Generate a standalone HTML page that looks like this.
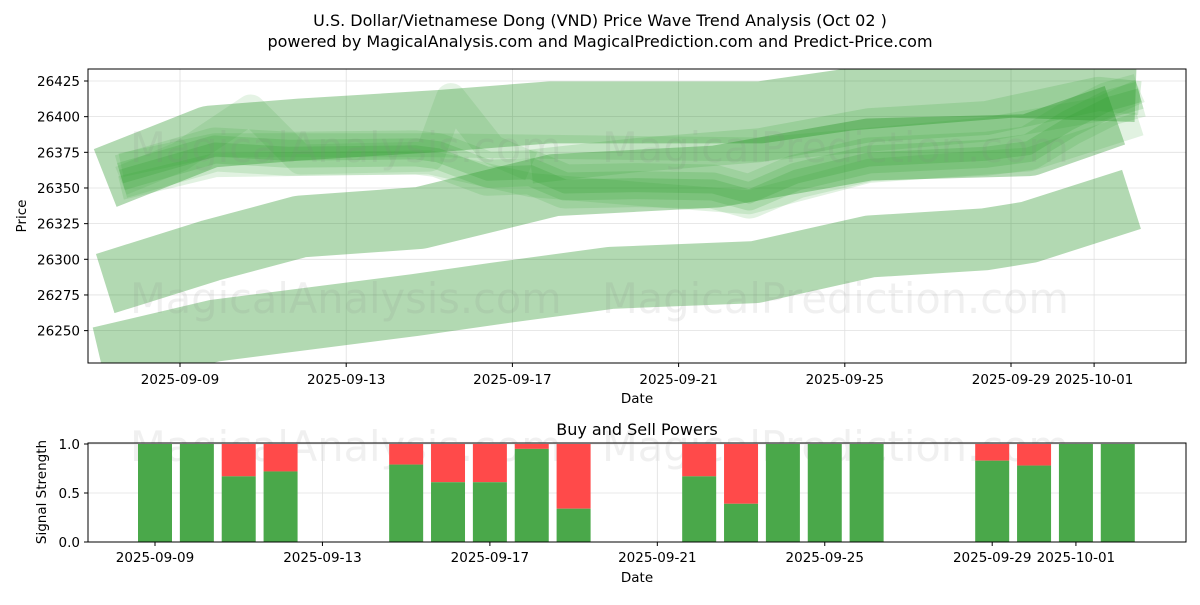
<!DOCTYPE html>
<html><head><meta charset="utf-8"><style>
body{margin:0;background:#fff;}
svg text{font-family:"DejaVu Sans","Liberation Sans",sans-serif;}
</style></head><body>
<svg id="chart" width="1200" height="600" viewBox="0 0 1200 600" xmlns="http://www.w3.org/2000/svg">
<defs>
<clipPath id="clipTop"><rect x="88" y="69" width="1098" height="294"/></clipPath>
<clipPath id="clipBot"><rect x="88" y="443" width="1098" height="99"/></clipPath>
</defs>
<rect width="1200" height="600" fill="#fff"/>
<text x="600" y="26" text-anchor="middle" font-size="16">U.S. Dollar/Vietnamese Dong (VND) Price Wave Trend Analysis (Oct 02 )</text>
<text x="600" y="47" text-anchor="middle" font-size="16">powered by MagicalAnalysis.com and MagicalPrediction.com and Predict-Price.com</text>
<g id="topGrid"></g>
<g id="bands" clip-path="url(#clipTop)"></g>
<g font-size="41.5" fill="rgba(128,128,128,0.12)">
<text x="130" y="162">MagicalAnalysis.com</text><text x="602" y="162">MagicalPrediction.com</text>
<text x="130" y="313">MagicalAnalysis.com</text><text x="602" y="313">MagicalPrediction.com</text>
<text x="130" y="461">MagicalAnalysis.com</text><text x="602" y="461">MagicalPrediction.com</text>
</g>
<rect x="88" y="69" width="1098" height="294" fill="none" stroke="#000" stroke-width="1"/>
<g id="topAxes"></g>
<text x="637" y="403" text-anchor="middle" font-size="13.5">Date</text>
<text x="26" y="216" text-anchor="middle" font-size="13.5" transform="rotate(-90 26 216)">Price</text>
<text x="637" y="435" text-anchor="middle" font-size="16">Buy and Sell Powers</text>
<g id="botGrid"></g>
<g id="bars" clip-path="url(#clipBot)"></g>
<rect x="88" y="443" width="1098" height="99" fill="none" stroke="#000" stroke-width="1"/>
<g id="botAxes"></g>
<text x="637" y="582" text-anchor="middle" font-size="13.5">Date</text>
<text x="46" y="492" text-anchor="middle" font-size="13.5" transform="rotate(-90 46 492)">Signal Strength</text>
</svg>
<script>
// x values: day of September (Oct 1 = 31)
const bandADays = [7.2, 9.72, 11.9, 15.26, 17.9, 22.96, 25.1, 29.0, 32.0];
const bandAVals = [26357, 26386, 26391, 26397, 26403, 26403, 26412, 26421, 26418];
const bandBDays = [7.2, 9.72, 11.9, 14.78, 18.0, 21.9, 25.58, 29.43, 31.5];
const bandBVals = [26283, 26306, 26323, 26329, 26352, 26358, 26377, 26380, 26401];
const bandCDays = [7.07, 9.84, 14.66, 16.58, 19.37, 22.84, 25.6, 28.37, 29.43, 31.9];
const bandCVals = [26231, 26250, 26268, 26276, 26287, 26291, 26309, 26314, 26319, 26342];
const mainDays = [7.58, 9.84, 11.6, 14.66, 15.2, 16.4, 17.45, 18.27, 19.97, 21.83, 22.7, 23.83, 25.58, 28.4, 29.43, 30.4, 31.36, 32.1];
const mainVals = [26358, 26377, 26374, 26375, 26373, 26360, 26361, 26351, 26352, 26351, 26344, 26358, 26370, 26374, 26378, 26395, 26409, 26415];
const upperDays = [7.58, 9.84, 15.0, 19.97, 22.96, 28.4, 31.1, 32.1];
const upperVals = [26366, 26380, 26380, 26378, 26377, 26391, 26405, 26418];
const bandDDays = [17.45, 19.97, 22.96, 25.58, 28.4, 31.1, 32.1];
const bandDVals = [26365, 26373, 26380, 26394, 26399, 26416, 26413];
const spikeDays = [7.58, 9.0, 10.7, 11.9, 15.0, 15.52, 16.5, 17.45];
const spikeVals = [26355, 26372, 26405, 26370, 26372, 26413, 26377, 26365];
const lowThreadDays = [7.58, 9.84, 15.0, 17.45, 19.97, 22.7, 25.58, 29.43, 32.1];
const lowThreadVals = [26350, 26366, 26368, 26352, 26346, 26340, 26362, 26370, 26395];
const priceTicks = [26250, 26275, 26300, 26325, 26350, 26375, 26400, 26425];
const dateTickDays = [9, 13, 17, 21, 25, 29, 31];
const dateTickLabels = ["2025-09-09","2025-09-13","2025-09-17","2025-09-21","2025-09-25","2025-09-29","2025-10-01"];
const barDays = [9,10,11,12,15,16,17,18,19,22,23,24,25,26,29,30,31,32];
const buyVals = [1,1,0.67,0.72,0.79,0.61,0.61,0.95,0.34,0.67,0.39,1,1,1,0.83,0.78,1,1];
const signalTicks = [0, 0.5, 1.0];

const NS = "http://www.w3.org/2000/svg";
const xT = d => 180 + (d - 9) * 41.55;
const yT = v => 81 + (26425 - v) * 1.4264;
const xB = d => 155 + (d - 9) * 41.86;
const yB = s => 542 - s * 98;
function mk(tag, attrs, parent){const e=document.createElementNS(NS,tag);for(const k in attrs)e.setAttribute(k,attrs[k]);parent.appendChild(e);return e;}

const tg = document.getElementById('topGrid'), ta = document.getElementById('topAxes');
priceTicks.forEach(v=>{
  const y=yT(v);
  const g=mk('line',{x1:88,x2:1186,y1:y,y2:y,stroke:'#e0e0e0','stroke-width':0.8},tg);
  
  
  mk('line',{x1:84,x2:88,y1:y,y2:y,stroke:'#000'},ta);
  const t=mk('text',{x:80,y:y+5,'text-anchor':'end','font-size':13.5},ta);
  t.textContent=v;
  
  
});
dateTickDays.forEach((d,i)=>{
  const x=xT(d);
  const g=mk('line',{x1:x,x2:x,y1:69,y2:363,stroke:'#e0e0e0','stroke-width':0.8},tg);
  
  
  mk('line',{x1:x,x2:x,y1:363,y2:367,stroke:'#000'},ta);
  const t=mk('text',{x:x,y:384,'text-anchor':'middle','font-size':13.5},ta);
  t.textContent=dateTickLabels[i];
  
  
});

const bands=document.getElementById('bands');
function band(days, vals, w, op, name, col){
  const pts=days.map((d,i)=>xT(d)+','+yT(vals[i])).join(' ');
  const p=mk('polyline',{points:pts,fill:'none',stroke:col||'rgb(0,128,0)','stroke-opacity':op,'stroke-width':w,'stroke-linejoin':'round','stroke-linecap':'butt'},bands);
  
  
}
const G='rgb(44,160,44)';
band(bandADays,bandAVals,62,0.3,'wave-band-upper');
band(bandBDays,bandBVals,62,0.3,'wave-band-middle');
band(bandCDays,bandCVals,62,0.3,'wave-band-lower');
band(spikeDays,spikeVals,30,0.12,'wave-band-spike',G);
band(bandDDays,bandDVals,34,0.18,'wave-band-recent',G);
band(upperDays,upperVals,24,0.14,'wave-band-upper-thread',G);
band(lowThreadDays,lowThreadVals,24,0.14,'wave-band-lower-thread',G);
band(mainDays,mainVals,44,0.14,'wave-band-main-wide',G);
band(mainDays,mainVals,28,0.18,'wave-band-main',G);
band(mainDays,mainVals,14,0.22,'wave-band-main-core',G);

const bg=document.getElementById('botGrid'), ba=document.getElementById('botAxes');
signalTicks.forEach(s=>{
  const y=yB(s);
  const g=mk('line',{x1:88,x2:1186,y1:y,y2:y,stroke:'#e0e0e0','stroke-width':0.8},bg);
  
  
  mk('line',{x1:84,x2:88,y1:y,y2:y,stroke:'#000'},ba);
  const t=mk('text',{x:80,y:y+5,'text-anchor':'end','font-size':13.5},ba);
  t.textContent=s.toFixed(1);
  
  
});
dateTickDays.forEach((d,i)=>{
  const x=xB(d);
  const g=mk('line',{x1:x,x2:x,y1:443,y2:542,stroke:'#e0e0e0','stroke-width':0.8},bg);
  
  
  mk('line',{x1:x,x2:x,y1:542,y2:546,stroke:'#000'},ba);
  const t=mk('text',{x:x,y:562,'text-anchor':'middle','font-size':13.5},ba);
  t.textContent=dateTickLabels[i];
  
  
});
const bars=document.getElementById('bars');
barDays.forEach((d,i)=>{
  const x=xB(d)-17, b=buyVals[i];
  const r=mk('rect',{x:x,y:yB(1),width:34,height:yB(b)-yB(1),fill:'#ff4a4a'},bars);
  
  
  const g=mk('rect',{x:x,y:yB(b),width:34,height:yB(0)-yB(b),fill:'#4aa84a'},bars);
  
  
});
</script>
</body></html>
